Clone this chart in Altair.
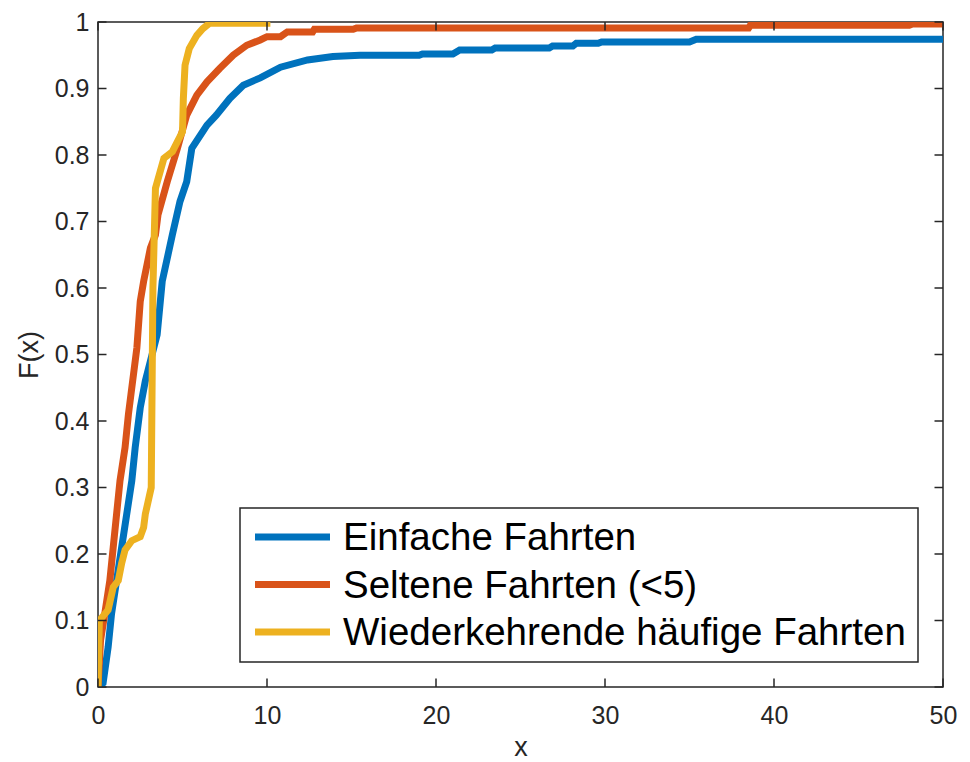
import altair as alt
import pandas as pd

# ---------------- data ----------------
x_ticks = [0, 10, 20, 30, 40, 50]
y_ticks = [0, 0.1, 0.2, 0.3, 0.4, 0.5, 0.6, 0.7, 0.8, 0.9, 1]

series_names = ["Einfache Fahrten", "Seltene Fahrten (<5)", "Wiederkehrende häufige Fahrten"]
series_colors = ["#0072BD", "#D95319", "#EDB120"]

blue_x = [0, 0.3, 0.6, 0.8, 1.1, 1.4, 1.7, 2.0, 2.2, 2.5, 2.8, 3.2, 3.5, 3.8, 4.4, 4.85,
          5.25, 5.55, 6.45, 7.0, 7.8, 8.6, 9.6, 10.8, 12.4, 13.9, 15.5, 19.0, 19.2, 21.0,
          21.4, 23.3, 23.5, 26.7, 26.9, 28.1, 28.3, 29.6, 29.8, 35.0, 35.4, 50]
blue_F = [0, 0.006, 0.06, 0.11, 0.16, 0.21, 0.26, 0.31, 0.36, 0.42, 0.46, 0.50, 0.53, 0.61,
          0.68, 0.73, 0.76, 0.81, 0.845, 0.86, 0.885, 0.905, 0.916, 0.932, 0.943, 0.948,
          0.950, 0.950, 0.952, 0.952, 0.958, 0.958, 0.961, 0.961, 0.964, 0.964, 0.968,
          0.968, 0.970, 0.970, 0.974, 0.974]

orange_x = [0, 0.15, 0.4, 0.7, 0.9, 1.1, 1.3, 1.6, 1.8, 1.95, 2.3, 2.5, 2.7, 3.1, 3.4, 3.55,
            4.1, 4.7, 5.25, 5.85, 6.45, 7.2, 8.0, 8.8, 9.6, 10.0, 10.8, 11.2, 12.7, 12.8,
            15.1, 15.3, 38.5, 38.6, 48.0, 48.2, 50]
orange_F = [0, 0.07, 0.11, 0.16, 0.21, 0.26, 0.31, 0.36, 0.41, 0.44, 0.51, 0.58, 0.61, 0.66,
            0.68, 0.71, 0.76, 0.81, 0.86, 0.89, 0.91, 0.93, 0.95, 0.965, 0.973, 0.978, 0.978,
            0.985, 0.985, 0.989, 0.989, 0.991, 0.991, 0.995, 0.995, 0.997, 0.997]

yellow_x = [0, 0.08, 0.6, 0.9, 1.2, 1.4, 1.6, 2.0, 2.5, 2.7, 2.8, 2.95, 3.15, 3.2, 3.25,
            3.35, 3.4, 3.9, 4.4, 4.7, 5.0, 5.05, 5.15, 5.4, 5.85, 6.2, 6.6, 10.2]
yellow_F = [0, 0.10, 0.116, 0.15, 0.16, 0.186, 0.206, 0.22, 0.226, 0.24, 0.26, 0.277, 0.30,
            0.45, 0.60, 0.70, 0.75, 0.795, 0.805, 0.82, 0.835, 0.885, 0.935, 0.96, 0.98,
            0.99, 0.998, 0.998]

# ---------------- layout / style ----------------
W, H = 845, 665
FONT = "Liberation Sans"
GREY = "#262626"
LW = 7

xscale = alt.Scale(domain=[0, 50], nice=False, zero=False)
yscale = alt.Scale(domain=[0, 1], nice=False, zero=False)

x_axis = alt.Axis(values=x_ticks, ticks=False, domain=False, grid=False,
                  labelFont=FONT, labelFontSize=25, labelColor=GREY, labelPadding=16,
                  labelFlush=False, labelOverlap=False,
                  title="x", titleFont=FONT, titleFontSize=27, titleFontWeight="normal",
                  titleColor=GREY, titleBaseline="alphabetic", titleY=68)
y_axis = alt.Axis(values=y_ticks, format="~g", ticks=False, domain=False, grid=False,
                  labelFont=FONT, labelFontSize=25, labelColor=GREY, labelPadding=9,
                  labelFlush=False, labelOverlap=False,
                  title="F(x)", titleFont=FONT, titleFontSize=27, titleFontWeight="normal",
                  titleColor=GREY, titleBaseline="alphabetic", titleX=-60.5, titleY=332.5)


def line_layer(xs, fs, color):
    df = pd.DataFrame({"x": xs, "F": fs, "i": list(range(len(xs)))})
    return alt.Chart(df).mark_line(color=color, strokeWidth=LW, clip=True,
                                   strokeJoin="miter", strokeCap="butt").encode(
        x=alt.X("x:Q", scale=xscale, axis=x_axis),
        y=alt.Y("F:Q", scale=yscale, axis=y_axis),
        order="i:Q",
    )


lines = [
    line_layer(blue_x, blue_F, series_colors[0]),
    line_layer(orange_x, orange_F, series_colors[1]),
    line_layer(yellow_x, yellow_F, series_colors[2]),
]

# inward tick marks on all four sides (MATLAB box style)
TL = 8.5
xt = pd.DataFrame({"x": x_ticks})
yt = pd.DataFrame({"F": y_ticks})
tick_style = dict(color=GREY, strokeWidth=1.5)
ticks = [
    alt.Chart(xt).mark_rule(**tick_style).encode(
        x=alt.X("x:Q", scale=xscale, axis=x_axis), y=alt.value(H), y2=alt.value(H - TL)),
    alt.Chart(xt).mark_rule(**tick_style).encode(
        x=alt.X("x:Q", scale=xscale, axis=x_axis), y=alt.value(0), y2=alt.value(TL)),
    alt.Chart(yt).mark_rule(**tick_style).encode(
        y=alt.Y("F:Q", scale=yscale, axis=y_axis), x=alt.value(0), x2=alt.value(TL)),
    alt.Chart(yt).mark_rule(**tick_style).encode(
        y=alt.Y("F:Q", scale=yscale, axis=y_axis), x=alt.value(W), x2=alt.value(W - TL)),
]

# legend (boxed, inside lower right)
one = pd.DataFrame({"k": [0]})
legend = [
    alt.Chart(one).mark_rect(fill="white", stroke=GREY, strokeWidth=1.5).encode(
        x=alt.value(142), x2=alt.value(820), y=alt.value(486), y2=alt.value(640)),
]
row_y = [515, 562.5, 610]
for name, color, ry in zip(series_names, series_colors, row_y):
    legend.append(alt.Chart(one).mark_rule(color=color, strokeWidth=LW, strokeCap="butt").encode(
        x=alt.value(157), x2=alt.value(232), y=alt.value(ry)))
    legend.append(alt.Chart(pd.DataFrame({"name": [name]})).mark_text(
        align="left", baseline="alphabetic", font=FONT, fontSize=38.5, color="black").encode(
        x=alt.value(245), y=alt.value(ry + 13), text="name:N"))

chart = alt.layer(*lines, *ticks, *legend).properties(
    width=W, height=H,
    autosize=alt.AutoSizeParams(type="none"),
    padding={"left": 98, "top": 22, "right": 27, "bottom": 75},
    background="white",
).configure_view(stroke=GREY, strokeWidth=1.5)

chart.save("out.html", embed_options={"renderer": "svg", "actions": False})
